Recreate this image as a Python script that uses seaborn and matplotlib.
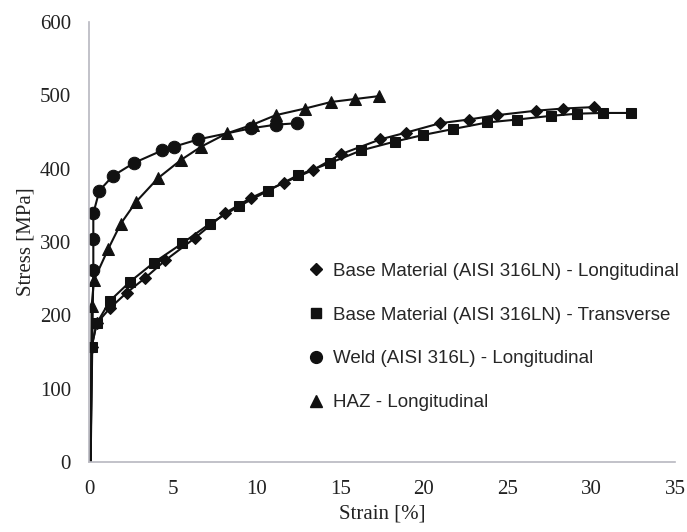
import numpy as np
import pandas as pd
import matplotlib
matplotlib.use("Agg")
import matplotlib.pyplot as plt
import seaborn as sns
from matplotlib.lines import Line2D

# Series (strain in %, stress in MPa); first point is the origin of each curve
base_long_strain = [0.1, 0.16, 0.46, 1.26, 2.26, 3.36, 4.56, 6.36, 8.1, 9.66, 11.66, 13.37, 15.07,
                    17.41, 18.91, 20.97, 22.67, 24.37, 26.67, 28.31, 30.17]
base_long_stress = [0, 157, 189, 210, 231, 251, 275, 306, 339, 360, 381, 398, 420,
                    440, 449, 462, 467, 473, 479, 482, 484]

base_trans_strain = [0.1, 0.16, 0.46, 1.26, 2.46, 3.88, 5.56, 7.22, 8.97, 10.7, 12.47, 14.42, 16.27,
                     18.27, 19.97, 21.73, 23.77, 25.57, 27.57, 29.17, 30.71, 32.37]
base_trans_stress = [0, 157, 189, 220, 246, 272, 298, 325, 349, 370, 391, 408, 425,
                     437, 446, 454, 463, 467, 472, 475, 476, 476]

weld_strain = [0.1, 0.26, 0.26, 0.26, 0.62, 1.42, 2.7, 4.38, 5.08, 6.54, 9.66, 11.16, 12.42]
weld_stress = [0, 262, 304, 339, 370, 390, 408, 425, 430, 440, 455, 460, 462]

haz_strain = [0.1, 0.16, 0.3, 1.16, 1.9, 2.82, 4.12, 5.5, 6.7, 8.22, 9.77, 11.16, 12.9,
              14.47, 15.9, 17.33]
haz_stress = [0, 213, 248, 291, 325, 355, 387, 412, 430, 448, 460, 473, 482,
              491, 495, 499]

labels = [
    "Base Material (AISI 316LN) - Longitudinal",
    "Base Material (AISI 316LN) - Transverse",
    "Weld (AISI 316L) - Longitudinal",
    "HAZ - Longitudinal",
]
markers = ["D", "s", "o", "^"]
marker_sizes = [6.5, 7.5, 9, 8.5]
legend_sizes = [6, 7.5, 8.5, 8.5]

series = [
    (base_long_strain, base_long_stress),
    (base_trans_strain, base_trans_stress),
    (weld_strain, weld_stress),
    (haz_strain, haz_stress),
]

sns.set_theme(style="white")
plt.rcParams["font.family"] = ["Liberation Serif", "DejaVu Serif"]

fig = plt.figure(figsize=(6.87, 5.32), dpi=100)
ax = fig.add_axes([0.1295, 0.1316, 0.853, 0.827])

ink = "#111111"
for (strain, stress), label, marker, size in zip(series, labels, markers, marker_sizes):
    df = pd.DataFrame({"Strain": strain, "Stress": stress})
    sns.lineplot(
        data=df, x="Strain", y="Stress",
        estimator=None, sort=False,
        color=ink, linewidth=1.5,
        marker=marker, markersize=size,
        markerfacecolor=ink, markeredgecolor=ink,
        markevery=list(range(1, len(strain))),
        ax=ax,
    )

ax.set_xlim(0, 35)
ax.set_ylim(0, 600)
ax.set_xticks(np.arange(0, 36, 5))
ax.set_yticks(np.arange(0, 601, 100))
ax.tick_params(axis="x", labelsize=15, colors="#222222", length=0, pad=13)
ax.tick_params(axis="y", labelsize=15, colors="#222222", length=0, pad=13)
ax.set_xlabel("Strain [%]", fontsize=15, color="#222222", labelpad=4)
ax.set_ylabel("Stress [MPa]", fontsize=15, color="#222222", labelpad=3)

for side in ["top", "right"]:
    ax.spines[side].set_visible(False)
for side in ["left", "bottom"]:
    ax.spines[side].set_color("#b8b8c0")
    ax.spines[side].set_linewidth(1.2)
ax.grid(False)

handles = [
    Line2D([], [], linestyle="none", marker=m, markersize=s,
           markerfacecolor=ink, markeredgecolor=ink)
    for m, s in zip(markers, legend_sizes)
]
ax.legend(
    handles, labels,
    loc="upper left", bbox_to_anchor=(0.365, 0.47),
    frameon=False, handlelength=0.6, handletextpad=0.6,
    labelspacing=1.42, borderaxespad=0,
    prop={"family": ["Liberation Sans", "DejaVu Sans"], "size": 13.5},
)

fig.savefig("out.png", dpi=100)
